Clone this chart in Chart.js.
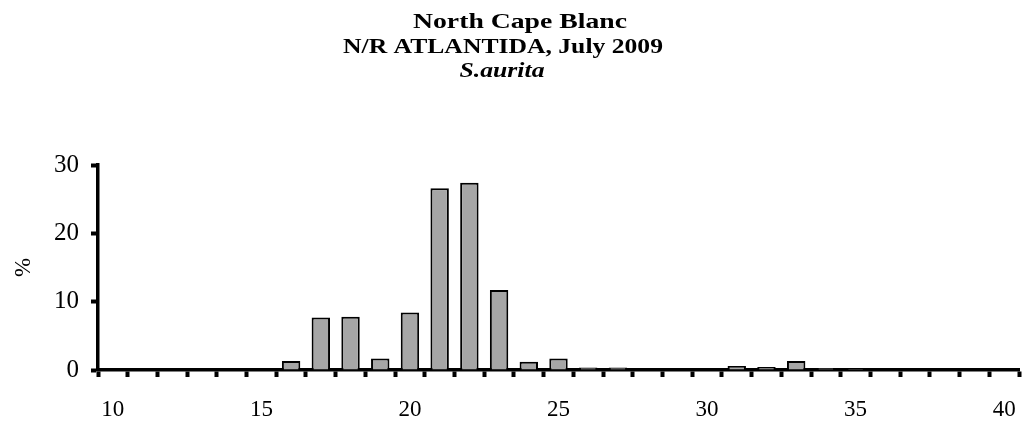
<!DOCTYPE html>
<html>
<head>
<meta charset="utf-8">
<script src="https://cdn.jsdelivr.net/npm/chart.js@4/dist/chart.umd.min.js"></script>
<style>
  html, body { margin: 0; padding: 0; background: #fff; }
  #wrap { width: 1025px; height: 423px; }
</style>
</head>
<body>
<div id="wrap"><canvas id="lengthChart" width="1025" height="423"></canvas></div>
<script>
const lengthClasses = ['10', '11', '12', '13', '14', '15', '16', '17', '18', '19', '20',
  '21', '22', '23', '24', '25', '26', '27', '28', '29', '30',
  '31', '32', '33', '34', '35', '36', '37', '38', '39', '40'];
const percentValues = [0, 0, 0, 0, 0, 0, 1.3, 7.7, 7.8, 1.7, 8.4,
  26.6, 27.4, 11.7, 1.2, 1.7, 0.35, 0.35, 0, 0, 0.1,
  0.6, 0.45, 1.3, 0.3, 0.2, 0, 0, 0, 0, 0];
const xTickLabels = ['10', '15', '20', '25', '30', '35', '40'];
const titleLines = ['North Cape Blanc', 'N/R ATLANTIDA, July 2009', 'S.aurita'];

const serif = 'Liberation Serif';

// title in the reference is wide and the last line is italic, so draw it by hand
const titleLayout = [
  { cx: 520, base: 28, w: 214, italic: false },
  { cx: 503, base: 53, w: 320, italic: false },
  { cx: 502, base: 77, w: 85, italic: true }
];
const titlePlugin = {
  id: 'threeLineTitle',
  afterDraw(chart) {
    const ctx = chart.ctx;
    titleLines.forEach((txt, i) => {
      const t = titleLayout[i];
      ctx.save();
      ctx.fillStyle = '#000';
      ctx.textAlign = 'center';
      ctx.textBaseline = 'alphabetic';
      ctx.font = (t.italic ? 'italic ' : '') + 'bold 21px "' + serif + '"';
      const sx = t.w / ctx.measureText(txt).width;
      ctx.translate(t.cx, t.base);
      ctx.scale(sx, 1);
      ctx.fillText(txt, 0, 0);
      ctx.restore();
    });
  }
};

new Chart(document.getElementById('lengthChart'), {
  type: 'bar',
  data: {
    labels: lengthClasses,
    datasets: [{
      label: '%',
      data: percentValues,
      backgroundColor: '#a6a6a6',
      borderColor: '#000',
      borderWidth: 2,
      barPercentage: 0.62,
      categoryPercentage: 1.0
    }]
  },
  options: {
    responsive: false,
    animation: false,
    layout: { padding: { top: 165, right: 6, bottom: 0, left: 0 } },
    plugins: {
      legend: { display: false },
      tooltip: { enabled: false }
    },
    scales: {
      x: {
        z: 1,
        offset: true,
        border: { display: true, color: '#000', width: 3.5 },
        grid: {
          offset: true,
          drawOnChartArea: false,
          drawTicks: true,
          tickLength: 7,
          tickWidth: 4,
          tickColor: '#000'
        },
        ticks: {
          autoSkip: false,
          maxRotation: 0,
          color: '#000',
          padding: 19,
          font: { family: serif, size: 23 },
          callback: function (value) {
            const lab = this.getLabelForValue(value);
            return xTickLabels.includes(lab) ? lab : '';
          }
        },
        afterFit: (scale) => {
          scale.height = 53;
          scale.paddingLeft = 0;
          scale.paddingRight = 0;
        }
      },
      y: {
        z: 1,
        min: 0,
        max: 30,
        border: { display: true, color: '#000', width: 3.5 },
        grid: {
          drawOnChartArea: false,
          drawTicks: true,
          tickLength: 7,
          tickWidth: 4,
          tickColor: '#000'
        },
        ticks: {
          stepSize: 10,
          color: '#000',
          padding: 12,
          font: { family: serif, size: 25 }
        },
        title: {
          display: true,
          text: '%',
          color: '#000',
          padding: { top: 10, bottom: 14 },
          font: { family: serif, size: 23 }
        },
        afterFit: (scale) => { scale.width = 98; }
      }
    }
  },
  plugins: [titlePlugin]
});
</script>
</body>
</html>
